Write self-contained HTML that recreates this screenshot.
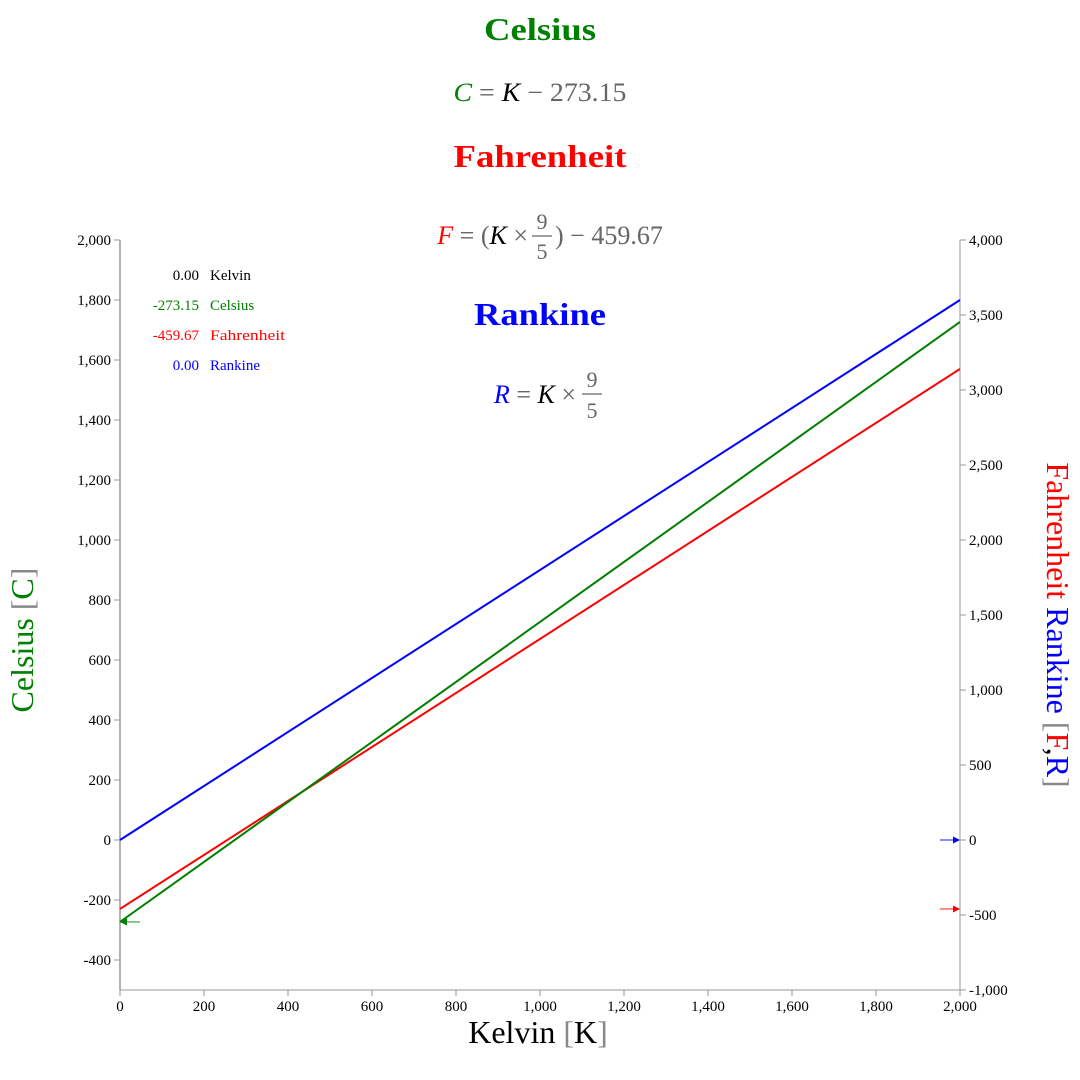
<!DOCTYPE html>
<html><head><meta charset="utf-8">
<style>
html,body{margin:0;padding:0;background:#fff;}
svg{display:block;font-family:"Liberation Serif",serif;}
</style></head>
<body>
<svg id="chart" width="1080" height="1080" xmlns="http://www.w3.org/2000/svg">
<g>
<text x="540" y="40" text-anchor="middle" font-size="32" font-weight="bold" fill="#008000" textLength="112" lengthAdjust="spacingAndGlyphs">Celsius</text>
<text x="540" y="101" text-anchor="middle" font-size="26" fill="#666" textLength="173" lengthAdjust="spacingAndGlyphs"><tspan fill="#008000" font-style="italic">C</tspan> = <tspan fill="#000" font-style="italic">K</tspan> − 273.15</text>
<text x="540" y="167" text-anchor="middle" font-size="32" font-weight="bold" fill="#ff0000" textLength="173" lengthAdjust="spacingAndGlyphs">Fahrenheit</text>
<text x="528" y="244" text-anchor="end" font-size="26" fill="#666"><tspan fill="#ff0000" font-style="italic">F</tspan> = (<tspan fill="#000" font-style="italic">K</tspan> ×</text>
<text x="542" y="229" text-anchor="middle" font-size="22" fill="#666">9</text>
<line x1="532" y1="236" x2="552" y2="236" stroke="#666" stroke-width="1.2"/>
<text x="542" y="259" text-anchor="middle" font-size="22" fill="#666">5</text>
<text x="555" y="244" font-size="26" fill="#666">) − 459.67</text>
<text x="540" y="325" text-anchor="middle" font-size="32" font-weight="bold" fill="#0000ff" textLength="132" lengthAdjust="spacingAndGlyphs">Rankine</text>
<text x="576" y="403" text-anchor="end" font-size="26" fill="#666"><tspan fill="#0000ff" font-style="italic">R</tspan> = <tspan fill="#000" font-style="italic">K</tspan> ×</text>
<text x="592" y="387" text-anchor="middle" font-size="22" fill="#666">9</text>
<line x1="582" y1="394" x2="602" y2="394" stroke="#666" stroke-width="1.2"/>
<text x="592" y="418" text-anchor="middle" font-size="22" fill="#666">5</text>
</g>
<g id="axes"></g>
<g id="series"></g>
<g font-size="15">
<text x="199" y="280" text-anchor="end" fill="#000">0.00</text>
<text x="210" y="280" fill="#000">Kelvin</text>
<text x="199" y="310" text-anchor="end" fill="#008000">-273.15</text>
<text x="210" y="310" fill="#008000">Celsius</text>
<text x="199" y="340" text-anchor="end" fill="#ff0000">-459.67</text>
<text x="210" y="340" fill="#ff0000" textLength="75" lengthAdjust="spacingAndGlyphs">Fahrenheit</text>
<text x="199" y="370" text-anchor="end" fill="#0000ff">0.00</text>
<text x="210" y="370" fill="#0000ff">Rankine</text>
</g>
<text x="538" y="1043" text-anchor="middle" font-size="32" fill="#000">Kelvin <tspan fill="#888">[</tspan>K<tspan fill="#888">]</tspan></text>
<text transform="translate(33,640) rotate(-90)" text-anchor="middle" font-size="32" fill="#008000">Celsius <tspan fill="#888">[</tspan>C<tspan fill="#888">]</tspan></text>
<text transform="translate(1047,625) rotate(90)" text-anchor="middle" font-size="32"><tspan fill="#ff0000">Fahrenheit</tspan> <tspan fill="#0000ff">Rankine</tspan> <tspan fill="#888">[</tspan><tspan fill="#ff0000">F</tspan>,<tspan fill="#0000ff">R</tspan><tspan fill="#888">]</tspan></text>
</svg>
<script>
const kelvinDomain = [0, 2000];
const xTicks = [0,200,400,600,800,1000,1200,1400,1600,1800,2000];
const leftTicks = [-400,-200,0,200,400,600,800,1000,1200,1400,1600,1800,2000];
const rightTicks = [-1000,-500,0,500,1000,1500,2000,2500,3000,3500,4000];
const kelvinPoints = [0, 2000];
const celsiusValues = [-273.15, 1726.85];
const fahrenheitValues = [-459.67, 3140.33];
const rankineValues = [0, 3600];

const NS = "http://www.w3.org/2000/svg";
const X0=120, X1=960, Y0=990, Y1=240;
const xS = v => X0 + (v - kelvinDomain[0]) / (kelvinDomain[1]-kelvinDomain[0]) * (X1 - X0);
const yL = v => Y0 - (v + 500) / 2500 * (Y0 - Y1);
const yR = v => Y0 - (v + 1000) / 5000 * (Y0 - Y1);
const fmt = v => v.toLocaleString('en-US');
function mk(tag, attrs, parent){const e=document.createElementNS(NS,tag);for(const k in attrs)e.setAttribute(k,attrs[k]);parent.appendChild(e);return e;}
const axes=document.getElementById('axes'), series=document.getElementById('series');

let e;
e=mk('line',{x1:X0,y1:Y0,x2:X1,y2:Y0,stroke:'#999','stroke-width':1},axes);


e=mk('line',{x1:X0,y1:Y1,x2:X0,y2:Y0,stroke:'#999','stroke-width':1.5},axes);


e=mk('line',{x1:X1,y1:Y1,x2:X1,y2:Y0,stroke:'#999','stroke-width':1},axes);



xTicks.forEach(v=>{
  const x=xS(v);
  let t=mk('line',{x1:x,y1:Y0,x2:x,y2:Y0+6,stroke:'#999'},axes);
  
  
  t=mk('text',{x:x,y:Y0+21,'text-anchor':'middle','font-size':15,fill:'#000'},axes);
  t.textContent=fmt(v);
  
  
});
leftTicks.forEach(v=>{
  const y=yL(v);
  let t=mk('line',{x1:X0-6,y1:y,x2:X0,y2:y,stroke:'#999'},axes);
  
  
  t=mk('text',{x:X0-9,y:y+5,'text-anchor':'end','font-size':15,fill:'#000'},axes);
  t.textContent=fmt(v);
  
  
});
rightTicks.forEach(v=>{
  const y=yR(v);
  let t=mk('line',{x1:X1,y1:y,x2:X1+6,y2:y,stroke:'#999'},axes);
  
  
  t=mk('text',{x:X1+9,y:y+5,'font-size':15,fill:'#000'},axes);
  t.textContent=fmt(v);
  
  
});

function line(vals, yf, color, name){
  const pts=kelvinPoints.map((k,i)=>xS(k)+','+yf(vals[i])).join(' ');
  const l=mk('polyline',{points:pts,fill:'none',stroke:color,'stroke-width':2},series);
  
  
}
line(rankineValues,yR,'#0000ff','rankine-line');
line(fahrenheitValues,yR,'#ff0000','fahrenheit-line');
line(celsiusValues,yL,'#008000','celsius-line');

function arrow(x1,x2,y,color,name){
  const g=mk('g',{},series);
  
  
  const dir = x2>x1?1:-1;
  mk('line',{x1:x1,y1:y,x2:x2-dir*5,y2:y,stroke:color,'stroke-width':1.5,opacity:0.6},g);
  mk('polygon',{points:`${x2},${y} ${x2-dir*7},${y-3.5} ${x2-dir*7},${y+3.5}`,fill:color},g);
}
arrow(X0+20,X0,yL(celsiusValues[0]),'#008000','celsius-zero-marker');
arrow(X1-20,X1,yR(fahrenheitValues[0]),'#ff0000','fahrenheit-zero-marker');
arrow(X1-20,X1,yR(rankineValues[0]),'#0000ff','rankine-zero-marker');
</script>
</body></html>
